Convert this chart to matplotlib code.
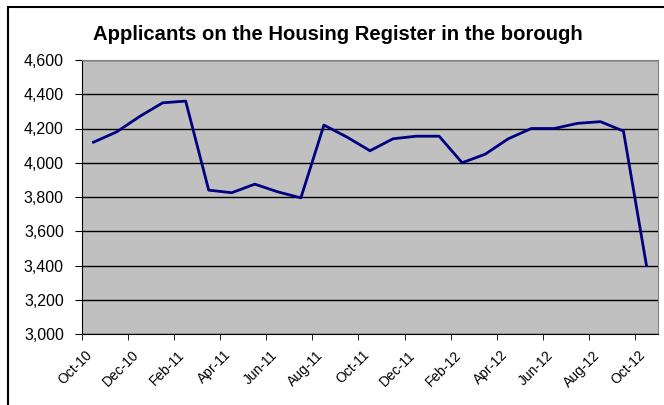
import matplotlib.pyplot as plt
from matplotlib.patches import Rectangle
from matplotlib.transforms import ScaledTranslation

# monthly counts, Oct-10 .. Oct-12
months = ["Oct-10", "Nov-10", "Dec-10", "Jan-11", "Feb-11", "Mar-11", "Apr-11",
          "May-11", "Jun-11", "Jul-11", "Aug-11", "Sep-11", "Oct-11", "Nov-11",
          "Dec-11", "Jan-12", "Feb-12", "Mar-12", "Apr-12", "May-12", "Jun-12",
          "Jul-12", "Aug-12", "Sep-12", "Oct-12"]
applicants = [4120, 4180, 4270, 4350, 4360, 3840, 3825, 3875, 3830, 3795,
              4220, 4150, 4070, 4140, 4155, 4155, 4000, 4050, 4140, 4200,
              4200, 4230, 4240, 4185, 3400]
y_ticks = list(range(3000, 4601, 200))

plt.rcParams["font.family"] = ["Liberation Sans", "DejaVu Sans"]

fig = plt.figure(figsize=(6.64, 4.05), dpi=100)
ax = fig.add_axes([82 / 664, 71 / 405, 576 / 664, 274 / 405])

x = list(range(len(months)))
ax.plot(x, applicants, color="#000080", linewidth=2)

ax.set_facecolor("#C0C0C0")
ax.set_xlim(-0.5, len(months) - 0.5)
ax.set_ylim(3000, 4600)
ax.set_yticks(y_ticks)
ax.set_yticklabels([f"{v:,}" for v in y_ticks], fontsize=11.5)
ax.yaxis.grid(True, color="black", linewidth=1)
ax.set_axisbelow(True)

# labels every second month, tick marks between categories
ax.set_xticks(x[::2])
ax.set_xticklabels(months[::2], fontsize=10, rotation=45, ha="right",
                   va="top", rotation_mode="anchor")
ax.tick_params(axis="x", length=0, pad=10)
shift = ScaledTranslation(-8 / 100, 0, fig.dpi_scale_trans)
for lab in ax.get_xticklabels():
    lab.set_transform(lab.get_transform() + shift)
ax.set_xticks([i - 0.5 for i in x[::2]], minor=True)
ax.tick_params(axis="x", which="minor", length=4, direction="out", color="black")
ax.tick_params(axis="y", length=5, direction="out", color="black", pad=8)

ax.spines["left"].set_color("black")
ax.spines["bottom"].set_color("black")
ax.spines["top"].set_color("#808080")
ax.spines["right"].set_color("#808080")

fig.text(338 / 664, 1 - 35 / 405, "Applicants on the Housing Register in the borough",
         ha="center", va="center", fontsize=14.6, fontweight="bold")

# outer chart border (cut off on the right and bottom)
fig.patches.append(Rectangle((7.5 / 664, -0.1), 1.2, 1 - 6.5 / 405 + 0.1,
                             transform=fig.transFigure, fill=False,
                             edgecolor="black", linewidth=1.5))

fig.savefig("out.png", dpi=100)
